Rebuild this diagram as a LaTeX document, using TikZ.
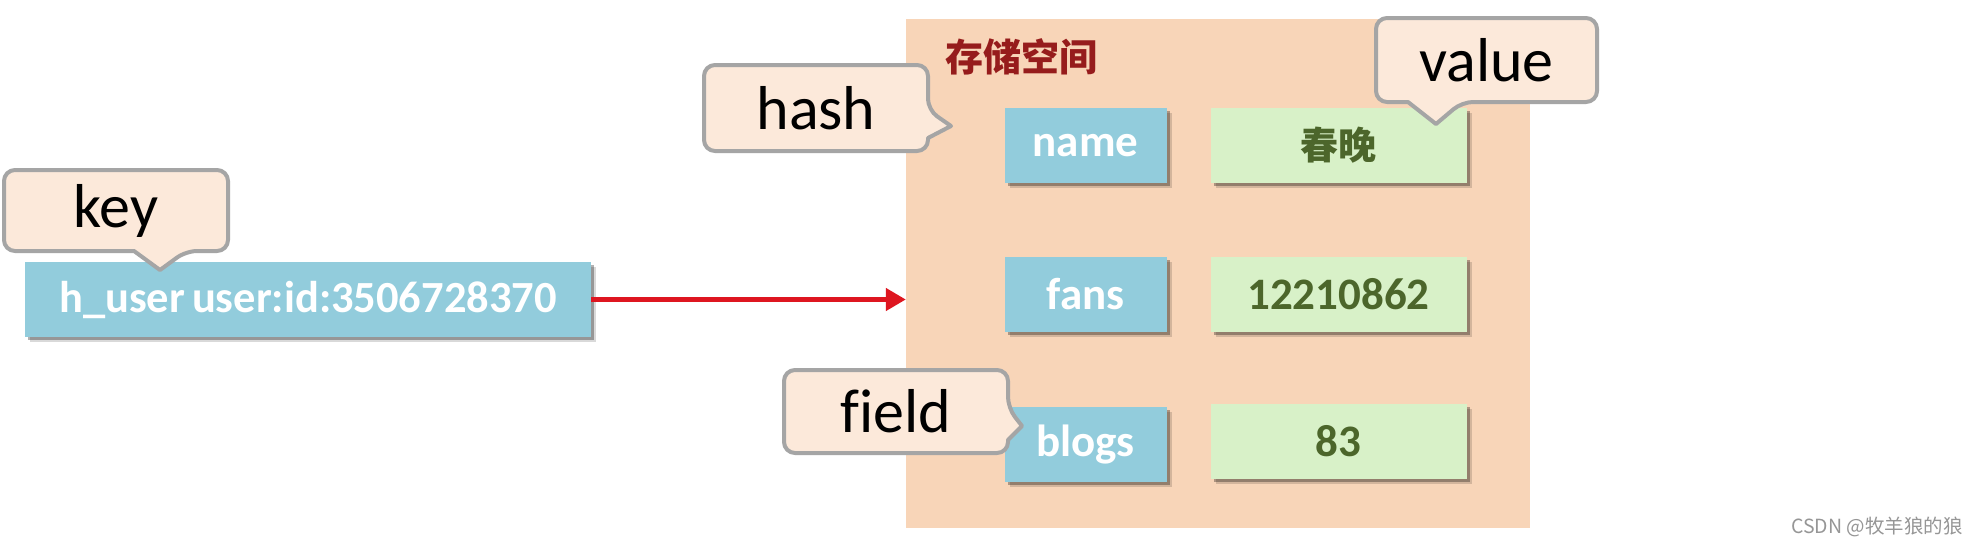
\documentclass[tikz,border=0pt]{standalone}
\usepackage{fontspec}
\setmainfont{Carlito}
\newfontfamily\cjk{Noto Sans CJK SC}
\usetikzlibrary{arrows.meta,shadows}
\definecolor{boxblue}{RGB}{146,204,220}
\definecolor{boxgreen}{RGB}{216,241,200}
\definecolor{valgreen}{RGB}{76,102,43}
\definecolor{bgorange}{RGB}{248,213,184}
\definecolor{cofill}{RGB}{252,233,218}
\definecolor{cogray}{RGB}{165,165,165}
\definecolor{darkred}{RGB}{150,28,28}
\definecolor{arrowred}{RGB}{222,22,32}
\definecolor{wmgray}{RGB}{150,150,150}
\begin{document}
\begin{tikzpicture}[x=1pt,y=-1pt,
  boxbase/.style={minimum height=75pt, inner sep=0pt,
    font=\fontsize{45}{54}\selectfont\bfseries,
    general shadow={shadow xshift=5pt,shadow yshift=-5pt,opacity=0.15,fill=black},
    drop shadow={shadow xshift=3pt,shadow yshift=-3pt,opacity=0.3,fill=black}},
  bluebox/.style={boxbase, fill=boxblue, text=white, minimum width=162pt},
  greenbox/.style={boxbase, fill=boxgreen, text=valgreen, minimum width=256pt},
  co/.style={draw=cogray, line width=4pt, fill=cofill, line join=round},
  cotext/.style={font=\fontsize{62}{74}\selectfont, text=black, inner sep=0pt},
]
\useasboundingbox[fill=white] (0,0) rectangle (1978,546);

% storage area
\node[fill=bgorange, minimum width=624pt, minimum height=509pt, inner sep=0pt] (storage) at (1218,273.5) {};
\node[font=\cjk\bfseries\fontsize{38}{44}\selectfont, text=darkred, inner sep=0pt] (title) at (1021,57) {存储空间};

% key box
\node[bluebox, minimum width=566pt, font=\fontsize{44.5}{54}\selectfont\bfseries] (huser) at (308,299.5) {h\_user\hspace{-3pt} user:id:3506728370};

% fields and values
\node[bluebox] (fname) at (1085.5,145.5) {name};
\node[greenbox] (vname) at (1338.5,145.5) {\cjk\bfseries\fontsize{38}{44}\selectfont 春晚};
\node[bluebox] (ffans) at (1085.5,294.5) {fans};
\node[greenbox] (vfans) at (1338.5,294.5) {12210862};
\node[bluebox] (fblogs) at (1085.5,444.5) {blogs};
\node[greenbox] (vblogs) at (1338.5,441.5) {83};

% arrow
\draw[arrowred, line width=4.5pt, -{Triangle[length=20pt,width=22pt]}] (huser.east) -- (huser.east -| storage.west);

% callouts
\draw[co, rounded corners=11pt] (4,170) -- (228,170) -- (228,251) -- (186,251) [sharp corners] -- (160,270) -- (134,251) [rounded corners=11pt] -- (4,251) -- cycle;
\node[cotext] (keylbl) at (116,210.5) {key};

\draw[co, rounded corners=11pt] (704,65) -- (928,65) -- (928,110) [sharp corners] -- (951,126) -- (928,138) [rounded corners=11pt] -- (928,151) -- (704,151) -- cycle;
\node[cotext] (hashlbl) at (816,108) {hash};

\draw[co, rounded corners=11pt] (1376,18) -- (1597,18) -- (1597,102) -- (1462,102) [sharp corners] -- (1436,124) -- (1408,102) [rounded corners=11pt] -- (1376,102) -- cycle;
\node[cotext] (valuelbl) at (1486.5,60) {value};

\draw[co, rounded corners=11pt] (784,370) -- (1008,370) -- (1008,408) [sharp corners] -- (1022,426) -- (1008,440) [rounded corners=11pt] -- (1008,453) -- (784,453) -- cycle;
\node[cotext] (fieldlbl) at (896,411.5) {f\kern0pt ield};

% watermark
\node[font=\cjk\fontsize{19.5}{22}\selectfont, text=wmgray, anchor=east, inner sep=0pt] (wm) at (1963,527) {CSDN @牧羊狼的狼};
\end{tikzpicture}
\end{document}
